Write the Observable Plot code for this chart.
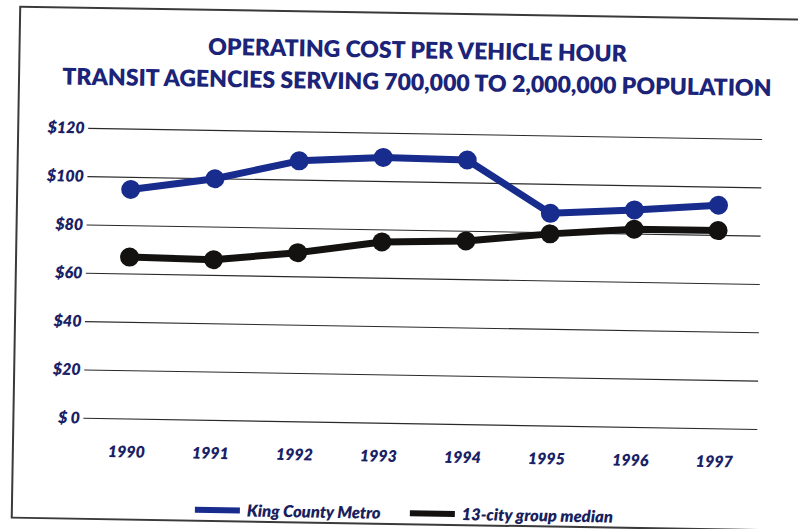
<!DOCTYPE html>
<html><head><meta charset="utf-8">
<script src="https://cdn.jsdelivr.net/npm/d3@7"></script>
<script src="https://cdn.jsdelivr.net/npm/@observablehq/plot@0.6"></script>
<style>
body{margin:0;background:#fff;overflow:hidden;width:798px;height:529px}
#wrap{position:relative;width:798px;height:529px;transform:rotate(0.95deg);transform-origin:399px 264px;}
#frame{position:absolute;left:15px;top:12px;width:810px;height:513px;border:2px solid #3a3a3a;box-sizing:border-box}
.tl{position:absolute;left:0;width:828px;text-align:center;font-family:Lato,sans-serif;font-weight:800;font-size:23px;color:#1b2478;line-height:26px;white-space:nowrap}
#chart{position:absolute;left:0;top:100px}
#legend{position:absolute;left:199px;top:503px;display:flex;align-items:center;font-family:Lato,sans-serif;font-weight:800;font-style:italic;font-size:16.5px;color:#1a1f5e}
.sw{display:inline-block;width:45px;height:6px;margin-right:7px}
.item{display:flex;align-items:center;margin-right:29px}
</style>
</head><body>
<div id="wrap">
<div id="frame"></div>
<div id="title"></div>
<div id="chart"></div>
<div id="legend"></div>
</div>
<script>
const titleLines = ["OPERATING COST PER VEHICLE HOUR", "TRANSIT AGENCIES SERVING 700,000 TO 2,000,000 POPULATION"];
const years = ["1990", "1991", "1992", "1993", "1994", "1995", "1996", "1997"];
const kingCounty = [95, 100, 108, 110, 109.5, 88, 90, 92.5];
const cityMedian = [67, 66.5, 70, 75, 76, 79.5, 82, 82];
const seriesNames = ["King County Metro", "13-city group median"];
const seriesColors = ["#172c8c", "#141210"];
const yTicks = [0, 20, 40, 60, 80, 100, 120];
const navy = "#1a1f66";

const titleEl = document.getElementById("title");
titleLines.forEach((line, i) => {
  const d = document.createElement("div");
  d.className = "tl";
  d.style.top = (36 + i * 32) + "px";
  d.textContent = line;
  titleEl.appendChild(d);
});

const data = [];
years.forEach((yr, i) => {
  data.push({year: yr, value: cityMedian[i], series: seriesNames[1]});
});
years.forEach((yr, i) => {
  data.push({year: yr, value: kingCounty[i], series: seriesNames[0]});
});

const chart = Plot.plot({
  width: 798,
  height: 374,
  marginTop: 33,
  marginBottom: 51,
  marginLeft: 86,
  marginRight: 38,
  style: {fontFamily: "Lato, sans-serif", fontSize: "16px", fontWeight: "800", fontStyle: "italic", color: navy, background: "transparent"},
  x: {type: "point", domain: years, padding: 0.5, label: null},
  y: {domain: [0, 120], label: null},
  color: {domain: seriesNames, range: seriesColors},
  marks: [
    Plot.ruleY(yTicks, {stroke: "#2a2a2a", strokeWidth: 1.1}),
    Plot.axisY(yTicks, {tickSize: 0, tickPadding: 4, tickFormat: d => d === 0 ? "$ 0" : "$" + d, label: null}),
    Plot.axisX({tickSize: 0, tickPadding: 27, label: null}),
    Plot.line(data, {x: "year", y: "value", z: "series", stroke: "series", strokeWidth: 7, strokeLinejoin: "round"}),
    Plot.dot(data, {x: "year", y: "value", fill: "series", r: 9.5})
  ]
});
document.getElementById("chart").appendChild(chart);

const legend = document.getElementById("legend");
seriesNames.forEach((name, i) => {
  const item = document.createElement("div");
  item.className = "item";
  const sw = document.createElement("span");
  sw.className = "sw";
  sw.style.background = seriesColors[i];
  item.appendChild(sw);
  const t = document.createElement("span");
  t.textContent = name;
  item.appendChild(t);
  legend.appendChild(item);
});
</script>
</body></html>
